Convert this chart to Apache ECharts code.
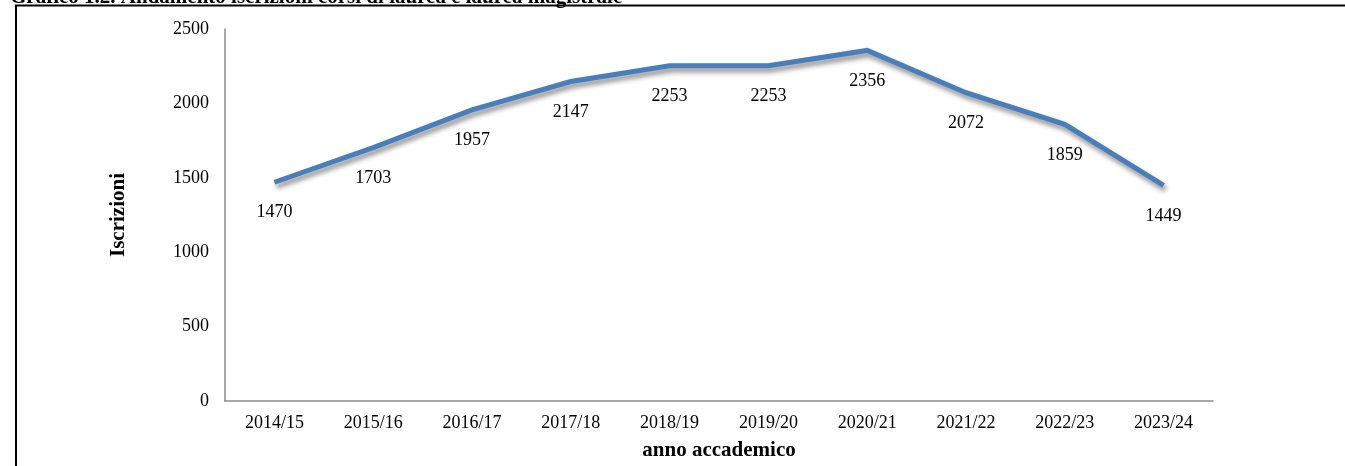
<!DOCTYPE html>
<html>
<head>
<meta charset="utf-8">
<script src="https://cdn.jsdelivr.net/npm/echarts@6/dist/echarts.min.js"></script>
<style>html,body{margin:0;padding:0;background:#fff;}#c{width:1345px;height:466px;}</style>
</head>
<body>
<div id="c"></div>
<script>
const categories = ['2014/15','2015/16','2016/17','2017/18','2018/19','2019/20','2020/21','2021/22','2022/23','2023/24'];
const iscrizioni = [1470, 1703, 1957, 2147, 2253, 2253, 2356, 2072, 1859, 1449];
const yTicks = { min: 0, max: 2500, interval: 500 };
const titleText = 'Grafico 1.2. Andamento iscrizioni corsi di laurea e laurea magistrale';

const chart = echarts.init(document.getElementById('c'));
const serif = 'Liberation Serif';
chart.setOption({
  animation: false,
  backgroundColor: '#fff',
  textStyle: { fontFamily: serif },
  grid: { left: 225, right: 132, top: 29, bottom: 62, containLabel: false },
  graphic: [
    { type: 'rect', shape: { x: 16, y: 5.5, width: 1400, height: 500 }, style: { fill: 'none', stroke: '#000', lineWidth: 2 }, z: -1 },
    { type: 'text', left: 10, top: -13, style: { text: titleText, font: 'bold 21px "Liberation Serif"', fill: '#000' } }
  ],
  xAxis: {
    type: 'category',
    data: categories,
    boundaryGap: true,
    name: 'anno accademico',
    nameLocation: 'middle',
    nameGap: 39,
    nameTextStyle: { fontFamily: serif, fontSize: 21, fontWeight: 'bold', color: '#000' },
    axisLine: { lineStyle: { color: '#8c8c8c', width: 1.5 } },
    axisTick: { show: false },
    axisLabel: { fontFamily: serif, fontSize: 18, color: '#000', margin: 13 },
    splitLine: { show: false }
  },
  yAxis: {
    type: 'value',
    min: yTicks.min, max: yTicks.max, interval: yTicks.interval,
    name: 'Iscrizioni',
    nameLocation: 'middle',
    nameGap: 96,
    nameTextStyle: { fontFamily: serif, fontSize: 21, fontWeight: 'bold', color: '#000' },
    axisLine: { show: true, lineStyle: { color: '#8c8c8c', width: 1.5 } },
    axisTick: { show: false },
    axisLabel: { fontFamily: serif, fontSize: 18, color: '#000', margin: 16, formatter: v => String(v) },
    splitLine: { show: false }
  },
  series: [{
    type: 'line',
    data: iscrizioni,
    symbol: 'circle',
    symbolSize: 1,
    showSymbol: true,
    itemStyle: { color: '#4A7EBB', opacity: 0 },
    lineStyle: { color: '#4A7EBB', width: 5, shadowColor: 'rgba(0,0,0,0.45)', shadowBlur: 5, shadowOffsetX: 2, shadowOffsetY: 4, cap: 'butt', join: 'miter' },
    label: { show: true, position: 'bottom', distance: 21, fontFamily: serif, fontSize: 18, color: '#000', opacity: 1 }
  }]
});
</script>
</body>
</html>
